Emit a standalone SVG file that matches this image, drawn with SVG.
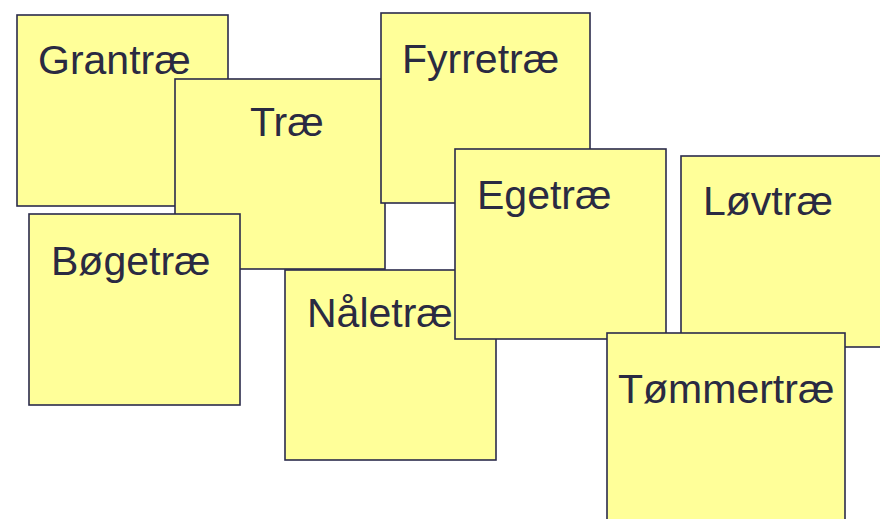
<svg xmlns="http://www.w3.org/2000/svg" width="880" height="519" viewBox="0 0 880 519">
<style>
.note rect{fill:#ffff99;stroke:#2b2b4b;stroke-width:1.6}
.note text{font-family:"Liberation Sans",Arial,sans-serif;font-size:41px;fill:#2a2a42}
</style>
<rect width="880" height="519" fill="#ffffff"/>
<g id="grantrae" class="note"><rect x="17" y="15" width="211" height="191"/><text x="38" y="74">Grantræ</text></g>
<g id="trae" class="note"><rect x="175" y="79" width="210" height="190"/><text x="250" y="136">Træ</text></g>
<g id="fyrretrae" class="note"><rect x="381" y="13" width="209" height="190"/><text x="402" y="73">Fyrretræ</text></g>
<g id="bogetrae" class="note"><rect x="29" y="214" width="211" height="191"/><text x="51" y="275">Bøgetræ</text></g>
<g id="naletrae" class="note"><rect x="285" y="270" width="211" height="190"/><text x="307" y="327">Nåletræ</text></g>
<g id="egetrae" class="note"><rect x="455" y="149" width="211" height="190"/><text x="477" y="209">Egetræ</text></g>
<g id="lovtrae" class="note"><rect x="681" y="156" width="211" height="191"/><text x="703" y="215">Løvtræ</text></g>
<g id="tommertrae" class="note"><rect x="607" y="333" width="238" height="195"/><text x="618" y="403">Tømmertræ</text></g>
<g id="connectors"></g>
</svg>
